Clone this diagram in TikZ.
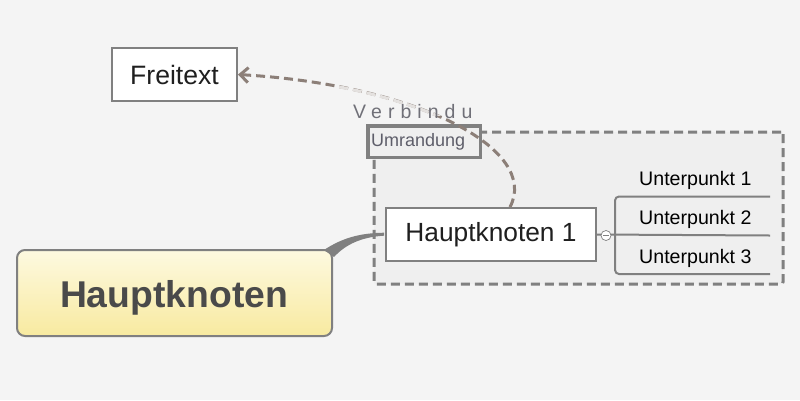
\documentclass[tikz,border=0pt]{standalone}
\usepackage{fontspec}
\setmainfont{Liberation Sans}
\usetikzlibrary{arrows.meta,calc}
\definecolor{bgcol}{HTML}{F4F4F4}
\definecolor{grpfill}{HTML}{EFEFEF}
\definecolor{boxline}{HTML}{808080}
\definecolor{linkcol}{HTML}{8C7F78}
\definecolor{fadecol}{HTML}{E4E1DF}
\definecolor{hktop}{HTML}{FDF9E0}
\definecolor{hkbot}{HTML}{F8EAA0}
\definecolor{hktext}{HTML}{4A4A4A}
\definecolor{umtext}{HTML}{5E5E6A}
\definecolor{vbtext}{HTML}{707078}
\tikzset{
  plainbox/.style={draw=boxline, line width=2pt, fill=white, inner sep=0pt},
  groupbox/.style={draw=boxline, line width=3pt, dash pattern=on 9pt off 5pt, fill=grpfill, rounded corners=2pt, inner sep=0pt},
  labelbox/.style={draw=boxline, line width=3.5pt, fill=grpfill, inner sep=0pt},
  mainbox/.style={draw=boxline, line width=2pt, rounded corners=8pt, top color=hktop, bottom color=hkbot, inner sep=0pt},
  link/.style={draw=linkcol, line width=3pt, dash pattern=on 9pt off 5pt},
  branch/.style={draw=boxline, line width=2pt},
  subtext/.style={anchor=base west, inner sep=0pt, font=\fontsize{19.6}{22}\selectfont}
}
\begin{document}
\begin{tikzpicture}[x=1pt,y=-1pt]
\fill[bgcol] (0,0) rectangle (800,400);
\useasboundingbox (0,0) rectangle (800,400);

% group boundary
\node[groupbox, minimum width=409, minimum height=152] (grp) at (578.5,208) {};
% group label
\node[labelbox, minimum width=112.5, minimum height=31.5] (uml) at (424,141.5) {};
\node[anchor=base west, inner sep=0pt, text=umtext, font=\fontsize{18}{20}\selectfont] (umt) at (371,146) {Umrandung};

% main node
\node[mainbox, minimum width=315, minimum height=86] (hk) at (174.5,293) {};
\node[anchor=base, inner sep=0pt, text=hktext, font=\fontsize{37.3}{42}\bfseries\selectfont] (hkt) at (174,307) {Hauptknoten};

% Hauptknoten 1
\node[plainbox, minimum width=210, minimum height=53, font=\fontsize{26.3}{30}\selectfont, text=black!88] (h1) at (491,234.5) {Hauptknoten 1};

% tapered connector
\fill[boxline] ($(hk.north east)+(-9,1)$) .. controls (342,238) and (360,233) .. ($(h1.west)+(-1,-1.8)$)
  -- ($(h1.west)+(-1,1.2)$) .. controls (362,237) and (346,244) .. ($(hk.north east)+(1,8)$) -- cycle;
\draw[boxline, line width=1.5pt, rounded corners=6pt] ($(hk.north east)+(-9,1)$) -- (hk.north east);

% collapse circle and branches
\coordinate (e1) at (770,196.5);
\coordinate (e2) at (770,235.5);
\coordinate (e3) at (770,274);
\draw[branch] (h1.east) -- (e2);
\draw[branch, rounded corners=4pt] (e1) -- (615,196.5) -- (615,274) -- (e3);
\node[circle, draw=boxline, fill=white, line width=0.7pt, minimum size=10pt, inner sep=0pt] (col) at (606,235.5) {};
\draw[boxline, line width=0.7pt] ($(col.center)+(-3,0)$) -- ($(col.center)+(3,0)$);

\node[subtext] (u1) at (639,185) {Unterpunkt 1};
\node[subtext] (u2) at (639,224) {Unterpunkt 2};
\node[subtext] (u3) at (639,263) {Unterpunkt 3};

% Freitext
\node[plainbox, minimum width=125, minimum height=53, font=\fontsize{26.6}{30}\selectfont, text=black!88] (fr) at (174.5,74.5) {Freitext};

% link
\coordinate (ls) at ($(h1.north)+(19,0)$);
\draw[link, -{Straight Barb[length=8pt,width=15pt,line width=3pt]}] (ls) .. controls (540,150) and (420,85) .. (fr.east);
\begin{scope}
\clip (338,70) rectangle (442,115);
\draw[link, draw=fadecol] (ls) .. controls (540,150) and (420,85) .. (fr.east);
\end{scope}
\node[anchor=base west, inner sep=0pt, text=vbtext, font=\fontsize{19.5}{22}\selectfont\addfontfeature{LetterSpace=31}] (vb) at (353,118) {Verbindu};
\end{tikzpicture}
\end{document}
